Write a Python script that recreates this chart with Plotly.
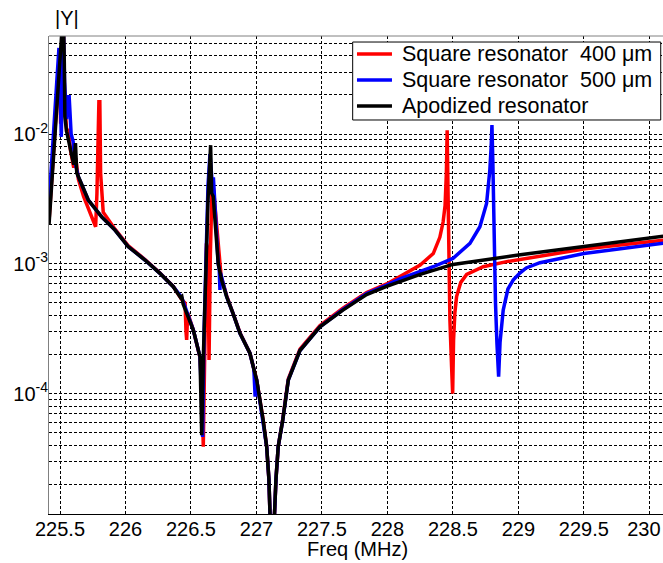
import numpy as np
import plotly.graph_objects as go

# ---------------- data (Freq in MHz, |Y|) ----------------
freq_apod = [225.416, 225.45, 225.48, 225.50, 225.515, 225.525, 225.533, 225.537, 225.55, 225.58,
             225.605, 225.618, 225.628, 225.64, 225.716, 225.818, 225.92, 226.02, 226.149, 226.263,
             226.365, 226.42, 226.43, 226.44, 226.518, 226.569, 226.578, 226.582, 226.595, 226.607,
             226.63, 226.65, 226.658, 226.67, 226.69, 226.708, 226.734, 226.772, 226.823, 226.874,
             226.95, 227.002, 227.052, 227.078, 227.095, 227.118, 227.149, 227.166, 227.2, 227.243,
             227.332, 227.485, 227.66, 227.841, 227.994, 228.25, 228.5, 228.75, 229.0, 229.5, 230.105]
y_apod = [2.0e-3, 6.0e-3, 1.6e-2, 3.0e-2, 5.0e-2, 9.0e-2, 3.5e-2, 1.36e-2, 1.05e-2, 7.5e-3,
          5.8e-3, 8.5e-3, 5.0e-3, 4.7e-3, 3.1e-3, 2.3e-3, 1.82e-3, 1.36e-3, 1.07e-3, 8.45e-4,
          6.67e-4, 5.5e-4, 5.6e-4, 4.9e-4, 3.09e-4, 1.92e-4, 1.0e-4, 4.8e-5, 2.0e-4, 6.3e-4,
          3.1e-3, 8.2e-3, 3.5e-3, 3.3e-3, 1.6e-3, 1.0e-3, 7.5e-4, 5.6e-4, 4.1e-4, 2.92e-4,
          2.05e-4, 1.27e-4, 6.2e-5, 3.9e-5, 2.2e-5, 4.0e-6, 2.2e-5, 3.9e-5, 6.2e-5, 1.27e-4,
          2.15e-4, 3.27e-4, 4.4e-4, 5.8e-4, 6.7e-4, 8.3e-4, 9.9e-4, 1.08e-3, 1.17e-3, 1.36e-3, 1.63e-3]

freq_sq400 = [225.416, 225.45, 225.48, 225.495, 225.505, 225.515, 225.525, 225.535, 225.55, 225.565,
              225.58, 225.605, 225.62, 225.64, 225.68, 225.729, 225.754, 225.772, 225.782, 225.79,
              225.797, 225.804, 225.81, 225.83, 225.92, 226.02, 226.149, 226.263, 226.365, 226.43,
              226.455, 226.462, 226.467, 226.475, 226.518, 226.569, 226.585, 226.594, 226.605, 226.618,
              226.628, 226.638, 226.648, 226.662, 226.672, 226.708, 226.73, 226.772, 226.823, 226.874,
              226.95, 227.002, 227.052, 227.078, 227.095, 227.118, 227.149, 227.166, 227.2, 227.243,
              227.332, 227.485, 227.66, 227.841, 227.994, 228.1, 228.25, 228.35, 228.4, 228.425,
              228.44, 228.45, 228.456, 228.462, 228.47, 228.477, 228.49, 228.498, 228.505, 228.515,
              228.528, 228.56, 228.605, 228.731, 228.91, 229.01, 229.5, 230.105]
y_sq400 = [2.1e-3, 6.5e-3, 1.8e-2, 3.5e-2, 1.2e-2, 2.0e-2, 7.0e-2, 2.0e-2, 1.07e-2, 1.07e-2,
           7.5e-3, 5.5e-3, 6.5e-3, 4.5e-3, 3.3e-3, 2.45e-3, 2.1e-3, 1.93e-3, 3.5e-3, 1.2e-2,
           1.77e-2, 1.77e-2, 5.0e-3, 2.5e-3, 1.85e-3, 1.38e-3, 1.08e-3, 8.5e-4, 6.7e-4, 5.3e-4,
           5.0e-4, 3.0e-4, 2.6e-4, 4.2e-4, 3.1e-4, 1.9e-4, 1.0e-4, 3.9e-5, 3.5e-4, 1.44e-3,
           1.3e-3, 1.82e-4, 1.2e-3, 4.2e-3, 3.8e-3, 1.52e-3, 8.0e-4, 5.7e-4, 4.15e-4, 2.95e-4,
           2.05e-4, 1.27e-4, 6.2e-5, 3.9e-5, 2.2e-5, 4.0e-6, 2.2e-5, 3.9e-5, 6.3e-5, 1.3e-4,
           2.2e-4, 3.35e-4, 4.55e-4, 6.0e-4, 7.0e-4, 8.0e-4, 9.8e-4, 1.2e-3, 1.6e-3, 2.1e-3,
           2.8e-3, 5.0e-3, 1.07e-2, 4.0e-3, 1.2e-3, 3.7e-4, 1.6e-4, 1.0e-4, 2.6e-4, 4.2e-4,
           5.6e-4, 7.2e-4, 8.3e-4, 9.5e-4, 1.04e-3, 1.08e-3, 1.3e-3, 1.52e-3]

freq_sq500 = [225.416, 225.45, 225.475, 225.492, 225.50, 225.51, 225.518, 225.525, 225.535, 225.55,
              225.562, 225.57, 225.585, 225.60, 225.615, 225.64, 225.716, 225.818, 225.92, 226.02,
              226.149, 226.263, 226.365, 226.43, 226.518, 226.569, 226.58, 226.589, 226.6, 226.615,
              226.63, 226.645, 226.66, 226.672, 226.685, 226.708, 226.716, 226.721, 226.726, 226.772,
              226.823, 226.874, 226.95, 226.98, 226.99, 226.996, 227.002, 227.052, 227.078, 227.095,
              227.118, 227.149, 227.166, 227.2, 227.243, 227.332, 227.485, 227.66, 227.841, 227.994,
              228.1, 228.35, 228.5, 228.63, 228.706, 228.757, 228.782, 228.792, 228.798, 228.805,
              228.815, 228.825, 228.836, 228.849, 228.86, 228.884, 228.92, 228.96, 229.011, 229.06,
              229.164, 229.5, 230.105]
y_sq500 = [2.9e-3, 9.0e-3, 2.5e-2, 4.6e-2, 2.0e-2, 9.5e-3, 3.0e-2, 7.0e-2, 2.5e-2, 1.3e-2,
           1.94e-2, 1.94e-2, 1.0e-2, 8.8e-3, 6.0e-3, 4.7e-3, 3.1e-3, 2.3e-3, 1.82e-3, 1.36e-3,
           1.07e-3, 8.45e-4, 6.67e-4, 5.5e-4, 3.09e-4, 1.92e-4, 1.0e-4, 4.65e-5, 3.0e-4, 1.5e-3,
           4.0e-3, 7.0e-3, 4.5e-3, 4.5e-3, 2.45e-3, 1.0e-3, 9.0e-4, 6.3e-4, 8.5e-4, 5.6e-4,
           4.1e-4, 2.92e-4, 2.05e-4, 1.55e-4, 9.5e-5, 1.35e-4, 1.27e-4, 6.2e-5, 3.9e-5, 2.2e-5,
           4.0e-6, 2.2e-5, 3.9e-5, 6.2e-5, 1.27e-4, 2.15e-4, 3.27e-4, 4.45e-4, 5.9e-4, 6.85e-4,
           7.7e-4, 9.5e-4, 1.1e-3, 1.44e-3, 1.93e-3, 2.92e-3, 5.3e-3, 8.0e-3, 1.17e-2, 6.0e-3,
           1.5e-3, 5.0e-4, 2.45e-4, 1.35e-4, 2.5e-4, 4.4e-4, 6.4e-4, 7.5e-4, 8.5e-4, 9.3e-4,
           1.02e-3, 1.2e-3, 1.44e-3]

x_ticks = [225.5, 226, 226.5, 227, 227.5, 228, 228.5, 229, 229.5, 230]
x_ticklabels = ["225.5", "226", "226.5", "227", "227.5", "228", "228.5", "229", "229.5", "230\u00a0\u00a0"]
y_ticks = [1e-4, 1e-3, 1e-2]
y_ticklabels = ["10<sup>-4</sup>", "10<sup>-3</sup>", "10<sup>-2</sup>"]

names = ["Square resonator\u00a0\u00a0400 \u03bcm", "Square resonator\u00a0\u00a0500 \u03bcm", "Apodized resonator"]
colors = ["#ff0000", "#0000ff", "#000000"]

# ---------------- figure ----------------
FONT = "Arial, 'Liberation Sans', Helvetica, sans-serif"
fig = go.Figure()
for fx, fy, nm, col in [(freq_sq400, y_sq400, names[0], colors[0]),
                        (freq_sq500, y_sq500, names[1], colors[1]),
                        (freq_apod, y_apod, names[2], colors[2])]:
    fig.add_trace(go.Scatter(x=fx, y=fy, mode="lines", name=nm, showlegend=False,
                             line=dict(color=col, width=3.5)))

minor_y = [d * 10.0 ** e for e in range(-6, -1) for d in range(2, 10)]

grid_dash = "3px,2px"
fig.update_layout(
    width=663, height=563,
    margin=dict(l=49, r=0, t=36, b=49, autoexpand=False),
    paper_bgcolor="white", plot_bgcolor="white",
    font=dict(family=FONT, size=20, color="black"),
    showlegend=False,
    xaxis=dict(range=[225.416, 230.104], tickmode="array", tickvals=x_ticks, ticktext=x_ticklabels,
               showgrid=True, gridcolor="black", gridwidth=1, griddash=grid_dash,
               showline=True, linecolor="black", linewidth=1, mirror=False,
               ticks="", zeroline=False, tickfont=dict(size=20),
               ticklabeloverflow="allow", ticklabelstandoff=-3, automargin=False),
    yaxis=dict(type="log", range=[-4.9265, -1.2453], tickmode="array", tickvals=y_ticks,
               ticktext=y_ticklabels, showgrid=True, gridcolor="black", gridwidth=1, griddash=grid_dash,
               minor=dict(tickmode="array", tickvals=minor_y, showgrid=True, gridcolor="black",
                          gridwidth=1, griddash=grid_dash, ticks=""),
               showline=True, linecolor="#808080", linewidth=1, mirror=False,
               ticks="", zeroline=False, tickfont=dict(size=20),
               ticklabelstandoff=-4, automargin=False),
)
# top border of the axes box
fig.add_shape(type="line", xref="paper", yref="paper", x0=0, x1=1, y0=1, y1=1,
              line=dict(color="#808080", width=1))

# legend box (drawn in paper coordinates to match the compact MATLAB legend)
leg_x0, leg_x1, leg_y0, leg_y1 = 0.4946, 0.9963, 0.8243, 0.9874
fig.add_shape(type="rect", xref="paper", yref="paper", x0=leg_x0, x1=leg_x1, y0=leg_y0, y1=leg_y1,
              line=dict(color="black", width=1), fillcolor="white", layer="above")
row_y = [0.9623, 0.9079, 0.8536]
for nm, col, ry in zip(names, colors, row_y):
    fig.add_shape(type="line", xref="paper", yref="paper", x0=0.5016, x1=0.5586, y0=ry, y1=ry,
                  line=dict(color=col, width=3.5), layer="above")
    fig.add_annotation(text=nm, xref="paper", yref="paper", x=0.5717, y=ry, xanchor="left",
                       yanchor="middle", showarrow=False, font=dict(size=21.5))

fig.add_annotation(text="|Y|", xref="paper", yref="paper", x=0.0065, y=1.0377,
                   xanchor="left", yanchor="middle", showarrow=False, font=dict(size=20))
fig.add_annotation(text="Freq (MHz)", xref="paper", yref="paper", x=0.5024, y=-0.0732,
                   xanchor="center", yanchor="middle", showarrow=False, font=dict(size=20))

# remove the default page margin so the 663x563 figure fills the window exactly
fig.write_html("out.html", config={"displayModeBar": False},
               post_script="document.body.style.margin='0';document.body.style.overflow='hidden';")
